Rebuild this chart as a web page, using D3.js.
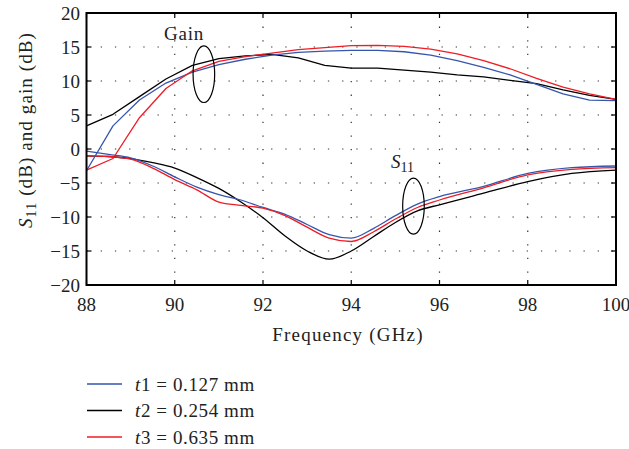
<!DOCTYPE html>
<html><head><meta charset="utf-8">
<script src="https://cdn.jsdelivr.net/npm/d3@7"></script>
<style>body{margin:0;background:#fff}svg{display:block}text{font-family:"Liberation Serif","Times New Roman",serif;fill:#222}</style>
</head><body><svg id="c" width="629" height="449"></svg>
<script>
const freqGain = [88, 88.6, 89.2, 89.8, 90.4, 91, 91.6, 92.2, 92.8, 93.4, 94, 94.6, 95.2, 95.8, 96.4, 97, 97.6, 98.2, 98.8, 99.4, 100];
const gainT1 = [-3.2, 3.4, 7.2, 9.7, 11.3, 12.4, 13.2, 13.8, 14.2, 14.4, 14.5, 14.5, 14.3, 13.8, 13.0, 12.0, 10.9, 9.5, 8.1, 7.2, 7.1];
const gainT2 = [3.4, 5.1, 7.7, 10.3, 12.3, 13.3, 13.7, 13.9, 13.4, 12.3, 11.9, 11.9, 11.6, 11.3, 10.9, 10.6, 10.1, 9.6, 8.7, 7.9, 7.3];
const gainT3 = [-3.1, -1.4, 4.6, 8.9, 11.5, 12.9, 13.6, 14.1, 14.6, 14.9, 15.2, 15.25, 15.1, 14.7, 14.0, 13.0, 11.8, 10.4, 9.1, 8.1, 7.3];

const freqS11 = [88, 88.5, 89, 89.5, 90, 90.5, 91, 91.5, 92, 92.5, 93, 93.5, 94, 94.5, 95, 95.5, 96, 97, 98, 99, 100];
const s11T1 = [-0.3, -0.8, -1.3, -2.5, -4.1, -5.6, -6.7, -7.5, -8.6, -9.6, -11.1, -12.6, -13.1, -11.7, -9.8, -8.1, -7.0, -5.5, -3.6, -2.75, -2.5];
const s11T2 = [-1.0, -1.1, -1.4, -2.0, -2.8, -4.2, -5.8, -7.8, -10.1, -12.8, -15.0, -16.2, -15.0, -12.9, -10.8, -9.1, -8.2, -6.5, -4.8, -3.6, -3.1];
const s11T3 = [-1.0, -1.1, -1.5, -2.8, -4.5, -6.0, -7.8, -8.3, -8.7, -9.8, -11.5, -13.1, -13.6, -12.2, -10.3, -8.6, -7.5, -5.7, -3.8, -3.0, -2.75];

const xTicks = [88, 90, 92, 94, 96, 98, 100];
const yTicks = [-20, -15, -10, -5, 0, 5, 10, 15, 20];
const seriesNames = ["t1", "t2", "t3"];
const seriesValues = ["0.127", "0.254", "0.635"];
const colors = ["#3656ad", "#000000", "#ee1c24"];

const svg = d3.select("#c");
const L = 86.5, R = 616, T = 13, B = 285;
const x = d3.scaleLinear().domain([88, 100]).range([L, R]);
const y = d3.scaleLinear().domain([-20, 20]).range([B, T]);

// grid
const g = svg.append("g");
g.selectAll(".gx").data(xTicks.slice(1, -1)).join("line")
  .attr("x1", d => x(d)).attr("x2", d => x(d)).attr("y1", T).attr("y2", B)
  .attr("stroke", "#333").attr("stroke-width", 1.2).attr("stroke-dasharray", "1.3 12.3");
g.selectAll(".gy").data(yTicks.slice(1, -1)).join("line")
  .attr("y1", d => y(d)).attr("y2", d => y(d)).attr("x1", L).attr("x2", R)
  .attr("stroke", "#333").attr("stroke-width", 1.2).attr("stroke-dasharray", "1.3 12.9");

// ticks (inside)
const tl = 5;
xTicks.forEach(t => {
  svg.append("line").attr("x1", x(t)).attr("x2", x(t)).attr("y1", B).attr("y2", B - tl).attr("stroke", "#000").attr("stroke-width", 1.2);
  svg.append("line").attr("x1", x(t)).attr("x2", x(t)).attr("y1", T).attr("y2", T + tl).attr("stroke", "#000").attr("stroke-width", 1.2);
});
yTicks.forEach(t => {
  svg.append("line").attr("y1", y(t)).attr("y2", y(t)).attr("x1", L).attr("x2", L + tl).attr("stroke", "#000").attr("stroke-width", 1.2);
  svg.append("line").attr("y1", y(t)).attr("y2", y(t)).attr("x1", R).attr("x2", R - tl).attr("stroke", "#000").attr("stroke-width", 1.2);
});

// tick labels
svg.selectAll(".xl").data(xTicks).join("text")
  .attr("x", d => x(d)).attr("y", 310.5).attr("text-anchor", "middle")
  .attr("font-size", 19).text(d => d);
svg.selectAll(".yl").data(yTicks).join("text")
  .attr("x", 80).attr("y", d => y(d) + 6.5).attr("text-anchor", "end")
  .attr("font-size", 19).text(d => d < 0 ? "\u2212" + Math.abs(d) : d);

// lines
const gainLine = d3.line().x(d => x(d[0])).y(d => y(d[1])).curve(d3.curveLinear);
const s11Line = d3.line().x(d => x(d[0])).y(d => y(d[1])).curve(d3.curveMonotoneX);
const gains = [gainT1, gainT2, gainT3];
const s11s = [s11T1, s11T2, s11T3];
const order = [1, 0, 2];
order.forEach(i => {
  svg.append("path").attr("d", s11Line(freqS11.map((f, k) => [f, s11s[i][k]])))
    .attr("fill", "none").attr("stroke", colors[i]).attr("stroke-width", 1.3);
});
order.forEach(i => {
  svg.append("path").attr("d", gainLine(freqGain.map((f, k) => [f, gains[i][k]])))
    .attr("fill", "none").attr("stroke", colors[i]).attr("stroke-width", 1.3).attr("stroke-linejoin", "round");
});

// frame
svg.append("rect").attr("x", L).attr("y", T).attr("width", R - L).attr("height", B - T)
  .attr("fill", "none").attr("stroke", "#000").attr("stroke-width", 2);

// annotations
svg.append("ellipse").attr("cx", x(90.66)).attr("cy", y(11)).attr("rx", 10.8).attr("ry", 28.3)
  .attr("fill", "none").attr("stroke", "#000").attr("stroke-width", 1.2);
svg.append("text").attr("x", 184).attr("y", 40).attr("text-anchor", "middle").attr("font-size", 19)
  .attr("letter-spacing", 0.8).text("Gain");
svg.append("ellipse").attr("cx", x(95.41)).attr("cy", y(-8.4)).attr("rx", 10.8).attr("ry", 28)
  .attr("fill", "none").attr("stroke", "#000").attr("stroke-width", 1.2);
const st = svg.append("text").attr("x", 391).attr("y", 168).attr("font-size", 19);
st.append("tspan").attr("font-style", "italic").text("S");
st.append("tspan").attr("dy", 4).attr("font-size", 14).text("11");

// axis titles
svg.append("text").attr("x", 348).attr("y", 341).attr("text-anchor", "middle").attr("font-size", 19)
  .attr("letter-spacing", 1.2).text("Frequency (GHz)");
const yt = svg.append("text").attr("transform", "translate(32,130) rotate(-90)").attr("text-anchor", "middle")
  .attr("font-size", 19).attr("letter-spacing", 1.1);
yt.append("tspan").attr("font-style", "italic").text("S");
yt.append("tspan").attr("dy", 4).attr("font-size", 14).text("11");
yt.append("tspan").attr("dy", -4).text(" (dB) and gain (dB)");

// legend
const legY = [384, 410.5, 437];
[0, 1, 2].forEach(i => {
  svg.append("line").attr("x1", 87).attr("x2", 122).attr("y1", legY[i]).attr("y2", legY[i])
    .attr("stroke", colors[i]).attr("stroke-width", 1.3);
  const t = svg.append("text").attr("x", 135).attr("y", legY[i] + 6.5).attr("font-size", 19).attr("letter-spacing", 0.6);
  t.append("tspan").attr("font-style", "italic").text("t");
  t.append("tspan").text(seriesNames[i].slice(1) + " = " + seriesValues[i] + " mm");
});
</script></body></html>
